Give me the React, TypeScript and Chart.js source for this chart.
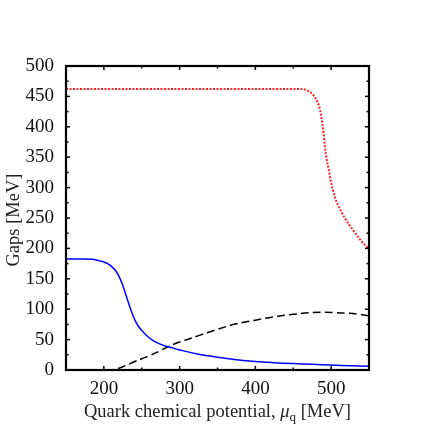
import React, { useEffect, useRef } from "react";
import { Chart, registerables } from "chart.js";

Chart.register(...registerables);

// Quark chemical potential (MeV) sample points and gaps (MeV)
const muBlue = [150, 170, 185, 190, 195, 200, 205, 210, 215, 220, 225, 230, 235, 238, 241, 244, 247, 250, 255, 260, 265, 270, 280, 290, 300, 325, 350, 375, 400, 425, 450, 475, 500, 525, 550];
const gapBlue = [182.5, 182.5, 182, 181, 179.5, 177.5, 175, 170.5, 164, 154, 139, 120, 101, 91, 82, 75, 69.5, 65, 58.5, 53, 48.5, 45, 40, 36.5, 33, 26, 21, 17, 14, 12, 10.5, 9.3, 8.2, 7, 6];

const muRed = [150, 200, 300, 400, 450, 460, 465, 470, 475, 480, 484, 487, 490, 492, 494, 497, 500, 505, 510, 518, 529, 540, 550];
const gapRed = [462, 462, 462, 462, 462, 462, 461.5, 459, 454, 446, 434, 417, 390, 365, 347, 328, 308, 284, 269, 250, 230, 212, 199];

const muDash = [203, 212, 220, 230, 240, 250, 260, 275, 285, 300, 325, 350, 375, 400, 425, 450, 475, 490, 505, 520, 535, 550];
const gapDash = [0, 0.5, 3, 8, 13.5, 18.5, 23.5, 32, 38.5, 46, 56.5, 67, 76, 82, 87.5, 91.5, 94.5, 95, 94.5, 93.5, 92, 89];

const xTickValues = [200, 300, 400, 500];
const yTickValues = [0, 50, 100, 150, 200, 250, 300, 350, 400, 450, 500];
const xRange = [150, 550];
const yRange = [0, 500];

const FONT = "'Liberation Serif', 'DejaVu Serif', serif";

const pts = (xs: number[], ys: number[]) => xs.map((x, i) => ({ x, y: ys[i] }));

const framePlugin = {
  id: "frame",
  afterDraw(chart: any) {
    const { ctx, chartArea } = chart;
    const { left, right, top, bottom } = chartArea;
    const xs = chart.scales.x;
    const ys = chart.scales.y;
    ctx.save();
    ctx.strokeStyle = "#000";
    ctx.lineWidth = 1.5;
    const line = (x1: number, y1: number, x2: number, y2: number) => {
      ctx.beginPath();
      ctx.moveTo(x1, y1);
      ctx.lineTo(x2, y2);
      ctx.stroke();
    };
    for (let v = xRange[0] + 50; v < xRange[1]; v += 50) {
      const px = xs.getPixelForValue(v);
      const len = v % 100 === 0 ? 4 : 2.5;
      line(px, bottom, px, bottom - len);
      line(px, top, px, top + len);
    }
    for (let v = yRange[0] + 25; v < yRange[1]; v += 25) {
      const py = ys.getPixelForValue(v);
      const len = v % 50 === 0 ? 4 : 2.5;
      line(left, py, left + len, py);
      line(right, py, right - len, py);
    }
    ctx.lineWidth = 2.2;
    ctx.strokeRect(left, top, right - left, bottom - top);

    // x title with subscript
    ctx.fillStyle = "#222";
    ctx.textBaseline = "alphabetic";
    const base = "18.5px " + FONT;
    const ital = "italic 18.5px " + FONT;
    const sub = "13px " + FONT;
    const parts = [
      { t: "Quark chemical potential, ", f: base, dy: 0 },
      { t: "\u03bc", f: ital, dy: 0 },
      { t: "q", f: sub, dy: 4 },
      { t: " [MeV]", f: base, dy: 0 },
    ];
    let total = 0;
    for (const p of parts) {
      ctx.font = p.f;
      total += ctx.measureText(p.t).width;
    }
    const cx = (left + right) / 2;
    let x = cx - total / 2;
    const by = 417;
    for (const p of parts) {
      ctx.font = p.f;
      ctx.fillText(p.t, x, by + p.dy);
      x += ctx.measureText(p.t).width;
    }

    // y title
    ctx.save();
    ctx.translate(19, (top + bottom) / 2 + 2);
    ctx.rotate(-Math.PI / 2);
    ctx.font = base;
    ctx.textAlign = "center";
    ctx.fillText("Gaps [MeV]", 0, 0);
    ctx.restore();
    ctx.restore();
  },
};

export default function App() {
  const ref = useRef<HTMLCanvasElement>(null);
  useEffect(() => {
    if (!ref.current) return;
    const chart = new Chart(ref.current, {
      type: "scatter",
      data: {
        datasets: [
          {
            data: pts(muRed, gapRed),
            showLine: true,
            borderColor: "#ff2020",
            borderWidth: 2,
            borderDash: [2, 1.5],
            pointRadius: 0,
            cubicInterpolationMode: "monotone",
          },
          {
            data: pts(muBlue, gapBlue),
            showLine: true,
            borderColor: "#0000ff",
            borderWidth: 1.5,
            pointRadius: 0,
            tension: 0.4,
          },
          {
            data: pts(muDash, gapDash),
            showLine: true,
            borderColor: "#000",
            borderWidth: 1.5,
            borderDash: [8, 4],
            pointRadius: 0,
            tension: 0.4,
          },
        ] as any,
      },
      options: {
        animation: false,
        responsive: false,
        events: [],
        layout: { padding: { top: 66, right: 67, left: 0, bottom: 0 } },
        plugins: { legend: { display: false }, tooltip: { enabled: false } },
        scales: {
          x: {
            type: "linear",
            min: xRange[0],
            max: xRange[1],
            grid: { display: false, drawTicks: false },
            border: { display: false },
            afterBuildTicks: (s: any) => {
              s.ticks = xTickValues.map((v) => ({ value: v }));
            },
            afterFit: (s: any) => {
              s.height = 66;
            },
            ticks: {
              padding: 8,
              maxRotation: 0,
              color: "#111",
              font: { family: FONT, size: 19 },
            },
          },
          y: {
            type: "linear",
            min: yRange[0],
            max: yRange[1],
            grid: { display: false, drawTicks: false },
            border: { display: false },
            afterBuildTicks: (s: any) => {
              s.ticks = yTickValues.map((v) => ({ value: v }));
            },
            afterFit: (s: any) => {
              s.width = 66;
            },
            ticks: {
              padding: 12,
              color: "#111",
              font: { family: FONT, size: 19 },
            },
          },
        },
      },
      plugins: [framePlugin],
    } as any);
    return () => chart.destroy();
  }, []);
  return (
    <div style={{ position: "absolute", left: 0, top: 0, width: 436, height: 436, background: "#fff" }}>
      <canvas ref={ref} width={436} height={436} style={{ display: "block" }} />
    </div>
  );
}
